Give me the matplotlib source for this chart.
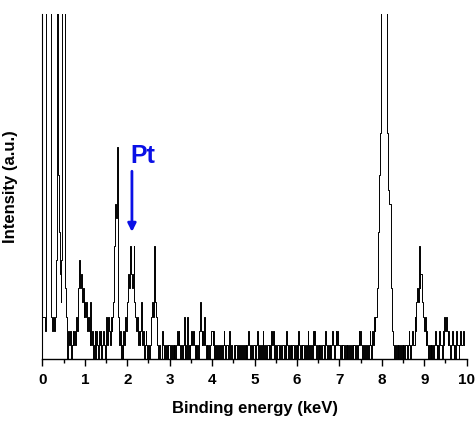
import numpy as np
import matplotlib
matplotlib.use('Agg')
import matplotlib.pyplot as plt

plt.rcParams['font.family'] = ['Liberation Sans', 'DejaVu Sans']
plt.rcParams['font.weight'] = 'bold'

# counts per 0.02 keV channel, one string per keV (5 groups of 10 channels),
# base-36 digits, 'z' = off scale
counts_0 = "33332zzzzz z3232347zd 9647zzz531 0212012121 3245756453"
counts_1 = "4342321412 0120210212 0121013132 132348baf6 3120102132"
counts_2 = "4655865684 3231212412 0121010123 4384321010 0121010101"
counts_3 = "1010101012 1210101301 0301012121 0101024212 1310101012"
counts_4 = "2120101101 0101210110 2101001011 0101101010 1012101101"
counts_5 = "1012101010 2101011010 2121010110 0101101021 0101011010"
counts_6 = "1021010110 1012010102 1210101010 1101210101 0121012121"
counts_7 = "1010110101 0101010110 1012121010 0101012102 1323359dgz"
counts_8 = "zzzzzzzgcb b522101010 1010101011 0121012113 2454856643"
counts_9 = "2312101010 1012101021 1021323212 1012101021 10121121"

spectrum = [counts_0, counts_1, counts_2, counts_3, counts_4,
            counts_5, counts_6, counts_7, counts_8, counts_9]

channel_width = 0.02   # keV
rows = [row.replace(' ', '') for row in spectrum]
for row in rows[:-1]:
    assert len(row) == 50, row
counts = np.array([int(c, 36) for row in rows for c in row], dtype=float)
energy = np.arange(len(counts)) * channel_width

label_text = 'Pt'
label_pos = (2.36, 13.9)
arrow_tail = (2.11, 13.3)
arrow_tip = (2.11, 9.0)

fig = plt.figure(figsize=(4.77, 4.21), dpi=100)
ax = fig.add_axes([0.0889, 0.1477, 0.8895, 0.819])

ax.step(energy, counts, where='mid', color='black', lw=0.7)

ax.set_xlim(0, 10)
ax.set_ylim(0, 24.45)
ax.set_xticks(np.arange(0, 11, 1))
ax.set_xticks(np.arange(0.5, 10, 1), minor=True)
ax.set_yticks([])
ax.tick_params(axis='x', which='major', direction='out', length=5, width=1,
               labelsize=11, pad=5.5)
ax.tick_params(axis='x', which='minor', direction='out', length=3, width=1)
for lbl in ax.get_xticklabels():
    lbl.set_fontweight('bold')

ax.spines['top'].set_visible(False)
ax.spines['right'].set_visible(False)
ax.spines['left'].set_linewidth(0.8)
ax.spines['bottom'].set_linewidth(1.0)

ax.set_xlabel('Binding energy (keV)', fontsize=12, fontweight='bold', labelpad=10)
ax.set_ylabel('Intensity (a.u.)', fontsize=12, fontweight='bold')
ax.yaxis.set_label_coords(-0.0575, 0.5)

ax.annotate('', xy=arrow_tip, xytext=arrow_tail,
            arrowprops=dict(arrowstyle='-|>', color='#0a10e6', lw=2,
                            mutation_scale=12, shrinkA=0, shrinkB=0))
ax.text(label_pos[0], label_pos[1], label_text, color='#0a10e6', fontsize=18,
        fontweight='bold', ha='center', va='baseline')

fig.savefig('out.png', dpi=100)
